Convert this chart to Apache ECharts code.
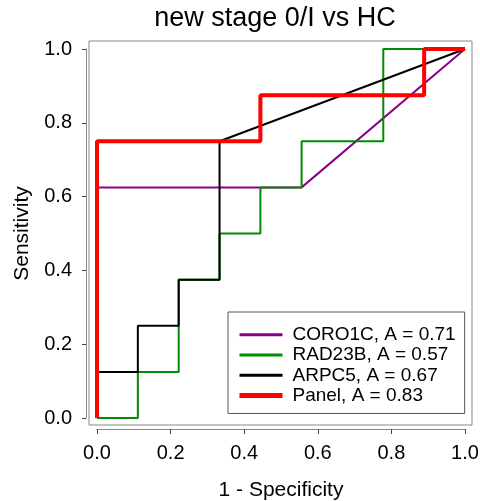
<!DOCTYPE html>
<html>
<head>
    <title>new stage 0/I vs HC</title>
    <script src="https://cdn.jsdelivr.net/npm/echarts@6/dist/echarts.min.js"></script>
    <style>
        body { margin: 0; background: #fff; }
    </style>
</head>
<body>

<div id="roc" style="width: 480px;height:501px;"></div>

<script type="text/javascript">
    // ROC points (1 - specificity, sensitivity)
    var seriesNames = ['CORO1C, A = 0.71', 'RAD23B, A = 0.57', 'ARPC5, A = 0.67', 'Panel, A = 0.83'];
    var seriesColors = ['#8b008b', '#008b00', '#000000', '#ff0000'];
    var seriesWidths = [2, 2, 2, 4];

    var coro1cX = [0, 0, 0.556, 1];
    var coro1cY = [0, 0.625, 0.625, 1];

    var rad23bX = [0, 0.111, 0.111, 0.222, 0.222, 0.333, 0.333, 0.444, 0.444, 0.556, 0.556, 0.778, 0.778, 1];
    var rad23bY = [0, 0, 0.125, 0.125, 0.375, 0.375, 0.5, 0.5, 0.625, 0.625, 0.75, 0.75, 1, 1];

    var arpc5X = [0, 0, 0.111, 0.111, 0.222, 0.222, 0.333, 0.333, 1];
    var arpc5Y = [0, 0.125, 0.125, 0.25, 0.25, 0.375, 0.375, 0.75, 1];

    var panelX = [0, 0, 0.444, 0.444, 0.889, 0.889, 1];
    var panelY = [0, 0.75, 0.75, 0.875, 0.875, 1, 1];

    function pairs(xs, ys) {
        var out = [];
        for (var i = 0; i < xs.length; i++) {
            out.push([xs[i], ys[i]]);
        }
        return out;
    }

    var allX = [coro1cX, rad23bX, arpc5X, panelX];
    var allY = [coro1cY, rad23bY, arpc5Y, panelY];

    var series = [];
    var legendData = [];
    for (var s = 0; s < seriesNames.length; s++) {
        series.push({
            name: seriesNames[s],
            type: 'line',
            xAxisIndex: 1,
            yAxisIndex: 1,
            symbol: 'none',
            data: pairs(allX[s], allY[s]),
            lineStyle: {color: seriesColors[s], width: seriesWidths[s]},
            itemStyle: {color: seriesColors[s]},
            z: 2 + s
        });
        legendData.push({
            name: seriesNames[s],
            lineStyle: {color: seriesColors[s], width: seriesWidths[s] + 1}
        });
    }

    var fontFam = '"Liberation Sans", Arial, sans-serif';

    var chart = echarts.init(document.getElementById('roc'));
    chart.setOption({
        animation: false,
        backgroundColor: '#fff',
        textStyle: {fontFamily: fontFam},
        title: {
            text: 'new stage 0/I vs HC',
            left: 275,
            top: -5,
            padding: 0,
            textAlign: 'center',
            textStyle: {fontSize: 27, fontWeight: 'normal', color: '#000', fontFamily: fontFam}
        },
        legend: {
            orient: 'vertical',
            left: 228,
            top: 312,
            padding: [6.5, 9, 1.5, 9],
            itemWidth: 43,
            itemHeight: 14,
            itemGap: -12.5,
            backgroundColor: '#fff',
            borderColor: '#555',
            borderWidth: 1,
            borderRadius: 0,
            itemStyle: {color: 'transparent', borderWidth: 0, opacity: 0},
            textStyle: {fontSize: 19, color: '#000', padding: [0, 0, 0, 5], fontFamily: fontFam},
            data: legendData
        },
        grid: [
            {left: 89, right: 8, top: 41, bottom: 76, show: true, borderColor: '#888', borderWidth: 1,
                backgroundColor: 'transparent', outerBoundsMode: 'none', containLabel: false},
            {left: 97, right: 15, top: 49, bottom: 83, outerBoundsMode: 'none', containLabel: false}
        ],
        xAxis: [
            {gridIndex: 0, type: 'value', min: 0, max: 1, show: false},
            {
                gridIndex: 1,
                type: 'value',
                min: 0,
                max: 1,
                interval: 0.2,
                position: 'bottom',
                offset: 11,
                name: '1 - Specificity',
                nameLocation: 'middle',
                nameGap: 43,
                nameMoveOverlap: false,
                nameTextStyle: {fontSize: 21, color: '#000', fontFamily: fontFam},
                axisLine: {show: true, onZero: false, lineStyle: {color: '#888', width: 1}},
                axisTick: {show: true, length: 5, lineStyle: {color: '#444'}},
                axisLabel: {
                    fontSize: 20, color: '#000', margin: 7,
                    formatter: function (v) { return v.toFixed(1); }
                },
                splitLine: {show: false}
            }
        ],
        yAxis: [
            {gridIndex: 0, type: 'value', min: 0, max: 1, show: false},
            {
                gridIndex: 1,
                type: 'value',
                min: 0,
                max: 1,
                interval: 0.2,
                position: 'left',
                offset: 11,
                name: 'Sensitivity',
                nameLocation: 'middle',
                nameGap: 46,
                nameMoveOverlap: false,
                nameTextStyle: {fontSize: 21, color: '#000', fontFamily: fontFam},
                axisLine: {show: true, onZero: false, lineStyle: {color: '#888', width: 1}},
                axisTick: {show: true, length: 4, lineStyle: {color: '#444'}},
                axisLabel: {
                    fontSize: 20, color: '#000', margin: 14,
                    formatter: function (v) { return v.toFixed(1); }
                },
                splitLine: {show: false}
            }
        ],
        series: series
    });
</script>
</body>
</html>
